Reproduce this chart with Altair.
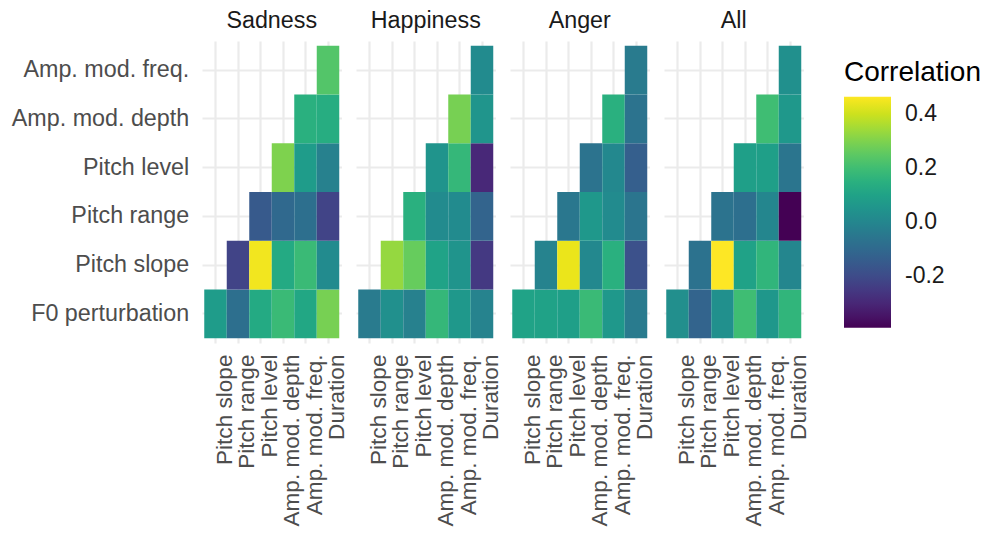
import altair as alt
import pandas as pd

emotions = ["Sadness", "Happiness", "Anger", "All"]
x_vars = ["Pitch slope", "Pitch range", "Pitch level", "Amp. mod. depth", "Amp. mod. freq.", "Duration"]
y_vars = ["F0 perturbation", "Pitch slope", "Pitch range", "Pitch level", "Amp. mod. depth", "Amp. mod. freq."]

# values listed row by row (y variable), each row over x variables from its own position onward
sadness = [0.08, -0.08, 0.13, 0.19, 0.12, 0.29,
           -0.22, 0.45, 0.13, 0.19, 0.02,
           -0.15, -0.10, -0.08, -0.22,
           0.30, 0.08, -0.02,
           0.15, 0.14,
           0.235]
happiness = [-0.04, 0.035, -0.02, 0.18, 0.065, -0.01,
             0.33, 0.265, 0.105, 0.05, -0.25,
             0.15, 0.02, 0.02, -0.12,
             0.05, 0.18, -0.295,
             0.29, 0.055,
             0.02]
anger = [0.105, 0.10, 0.09, 0.19, 0.065, -0.04,
         -0.01, 0.44, 0.01, 0.15, -0.18,
         -0.05, 0.065, 0.02, -0.06,
         -0.065, 0.01, -0.135,
         0.15, -0.065,
         -0.04]
all_emotions = [0.03, -0.12, 0.035, 0.20, 0.06, 0.17,
                -0.07, 0.465, 0.10, 0.17, 0.0,
                -0.065, -0.08, 0.0, -0.39,
                0.09, 0.09, -0.06,
                0.20, 0.065,
                0.035]

series = [sadness, happiness, anger, all_emotions]

rows = []
for emo, vals in zip(emotions, series):
    k = 0
    for i, yv in enumerate(y_vars):
        for j in range(i, len(x_vars)):
            rows.append({"emotion": emo, "yvar": yv, "xvar": x_vars[j], "r": vals[k]})
            k += 1
df = pd.DataFrame(rows)

all_vals = [v for s in series for v in s]
FONT = "Liberation Sans"

base = alt.Chart(df).mark_rect().encode(
    x=alt.X("xvar:N", sort=x_vars,
            scale=alt.Scale(domain=x_vars, paddingInner=0, paddingOuter=0.1),
            axis=alt.Axis(title=None, labelAngle=270, labelAlign="right", labelBaseline="top",
                          labelOffset=-2, labelFontSize=22.6, labelFont=FONT, labelColor="#4D4D4D",
                          labelPadding=11, labelLimit=400, ticks=False, tickSize=0, domain=False,
                          grid=True, gridColor="#EBEBEB", gridWidth=2.2, zindex=0)),
    y=alt.Y("yvar:N", sort=y_vars[::-1],
            scale=alt.Scale(domain=y_vars[::-1], paddingInner=0, paddingOuter=0.1),
            axis=alt.Axis(title=None, labelFontSize=23.3, labelFont=FONT, labelColor="#4D4D4D",
                          labelPadding=13.3, labelLimit=400, ticks=False, tickSize=0, domain=False,
                          grid=True, gridColor="#EBEBEB", gridWidth=2.2, zindex=0)),
    color=alt.Color("r:Q",
                    scale=alt.Scale(scheme="viridis", domain=[min(all_vals), max(all_vals)], nice=False),
                    legend=alt.Legend(title="Correlation", titleFontSize=28, titleFont=FONT,
                                      titleFontWeight="normal", titleColor="#000000", titlePadding=9.7,
                                      labelFontSize=23, labelFont=FONT, labelColor="#1A1A1A",
                                      labelOffset=14, gradientLength=231, gradientThickness=47,
                                      gradientStrokeWidth=0,
                                      values=[0.4, 0.2, 0.0, -0.2],
                                      labelExpr="datum.value < 0 ? '-' + format(-datum.value, '.1f') : format(datum.value, '.1f')",
                                      orient="none", legendX=642, legendY=18, padding=0)),
).properties(width=139.5, height=302)

chart = base.facet(
    column=alt.Column("emotion:N", sort=emotions,
                      header=alt.Header(title=None, labelFontSize=23.3, labelFont=FONT,
                                        labelColor="#1A1A1A", labelPadding=8)),
    spacing=14,
).configure_view(strokeWidth=0).properties(
    padding={"left": 3, "top": 0, "right": 0, "bottom": 0}
)

chart.save("out.html", embed_options={"renderer": "svg", "actions": False})
